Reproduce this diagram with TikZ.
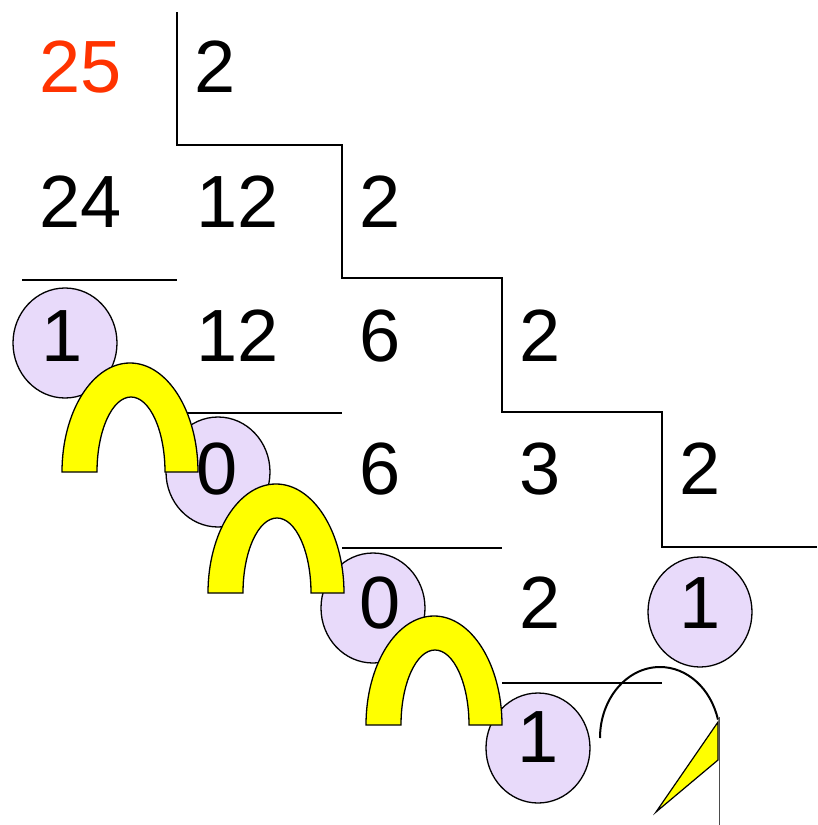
\documentclass[tikz,border=0pt]{standalone}
\usepackage{fontspec}
\setmainfont{Liberation Sans}
\definecolor{lav}{RGB}{232,218,250}
\definecolor{redtxt}{RGB}{255,51,0}
\definecolor{archyellow}{RGB}{255,255,0}
\begin{document}
\begin{tikzpicture}[x=1pt,y=-1pt,
  num/.style={inner sep=0pt,anchor=base west,font=\fontsize{74}{80}\selectfont},
  rule/.style={line width=2pt},
  bub/.style={draw=black,line width=1.3pt,fill=lav},
  archfill/.style={draw=black,line width=1.3pt,fill=archyellow}]
\useasboundingbox (0,0) rectangle (817,825);
% staircase of divisions
\draw[rule] (177,12) -- (177,145) -- (342,145) -- (342,278) -- (502,278)
  -- (502,412) -- (662,412) -- (662,547) -- (817,547);
% subtraction rules
\draw[rule] (22,280) -- (177,280);
\draw[rule] (177,413) -- (342,413);
\draw[rule] (342,548) -- (502,548);
\draw[rule] (502,683) -- (662,683);
% remainder bubbles
\draw[bub] (65,343) ellipse [x radius=52, y radius=55];
\draw[bub] (218,472) ellipse [x radius=52, y radius=55];
\draw[bub] (373,608) ellipse [x radius=52, y radius=55];
\draw[bub] (700,612) ellipse [x radius=52, y radius=55];
\draw[bub] (538,748) ellipse [x radius=52, y radius=55];
% numbers
\node[num,text=redtxt] (n25) at (39,92) {25};
\node[num] (d1) at (194,92) {2};
\node[num] (n24) at (39,227) {24};
\node[num] (n12a) at (196,227) {12};
\node[num] (d2) at (359,227) {2};
\node[num] (r1) at (41,361) {1};
\node[num] (n12b) at (196,361) {12};
\node[num] (n6a) at (359,361) {6};
\node[num] (d3) at (519,361) {2};
\node[num] (r2) at (196,494) {0};
\node[num] (n6b) at (359,494) {6};
\node[num] (n3) at (519,494) {3};
\node[num] (d4) at (679,494) {2};
\node[num] (r3) at (359,628) {0};
\node[num] (n2) at (519,628) {2};
\node[num] (r5) at (679,628) {1};
\node[num] (r4) at (517,762) {1};
% yellow arches
\draw[archfill] (62,472) arc [start angle=180, end angle=360, x radius=68, y radius=109]
  -- (165,472) arc [start angle=0, end angle=-180, x radius=34, y radius=75] -- cycle;
\draw[archfill] (208,593) arc [start angle=180, end angle=360, x radius=68, y radius=109]
  -- (311,593) arc [start angle=0, end angle=-180, x radius=34, y radius=75] -- cycle;
\draw[archfill] (366,725) arc [start angle=180, end angle=360, x radius=68, y radius=109]
  -- (469,725) arc [start angle=0, end angle=-180, x radius=34, y radius=75] -- cycle;
% last hop
\draw[line width=2pt] (600,738) arc [start angle=180, end angle=345, x radius=60, y radius=71];
\draw[black!70,line width=1pt] (719,717) -- (719,825);
\draw[black,line width=1.2pt,fill=archyellow] (718,722) -- (718,760) -- (656,812) -- cycle;
\end{tikzpicture}
\end{document}
